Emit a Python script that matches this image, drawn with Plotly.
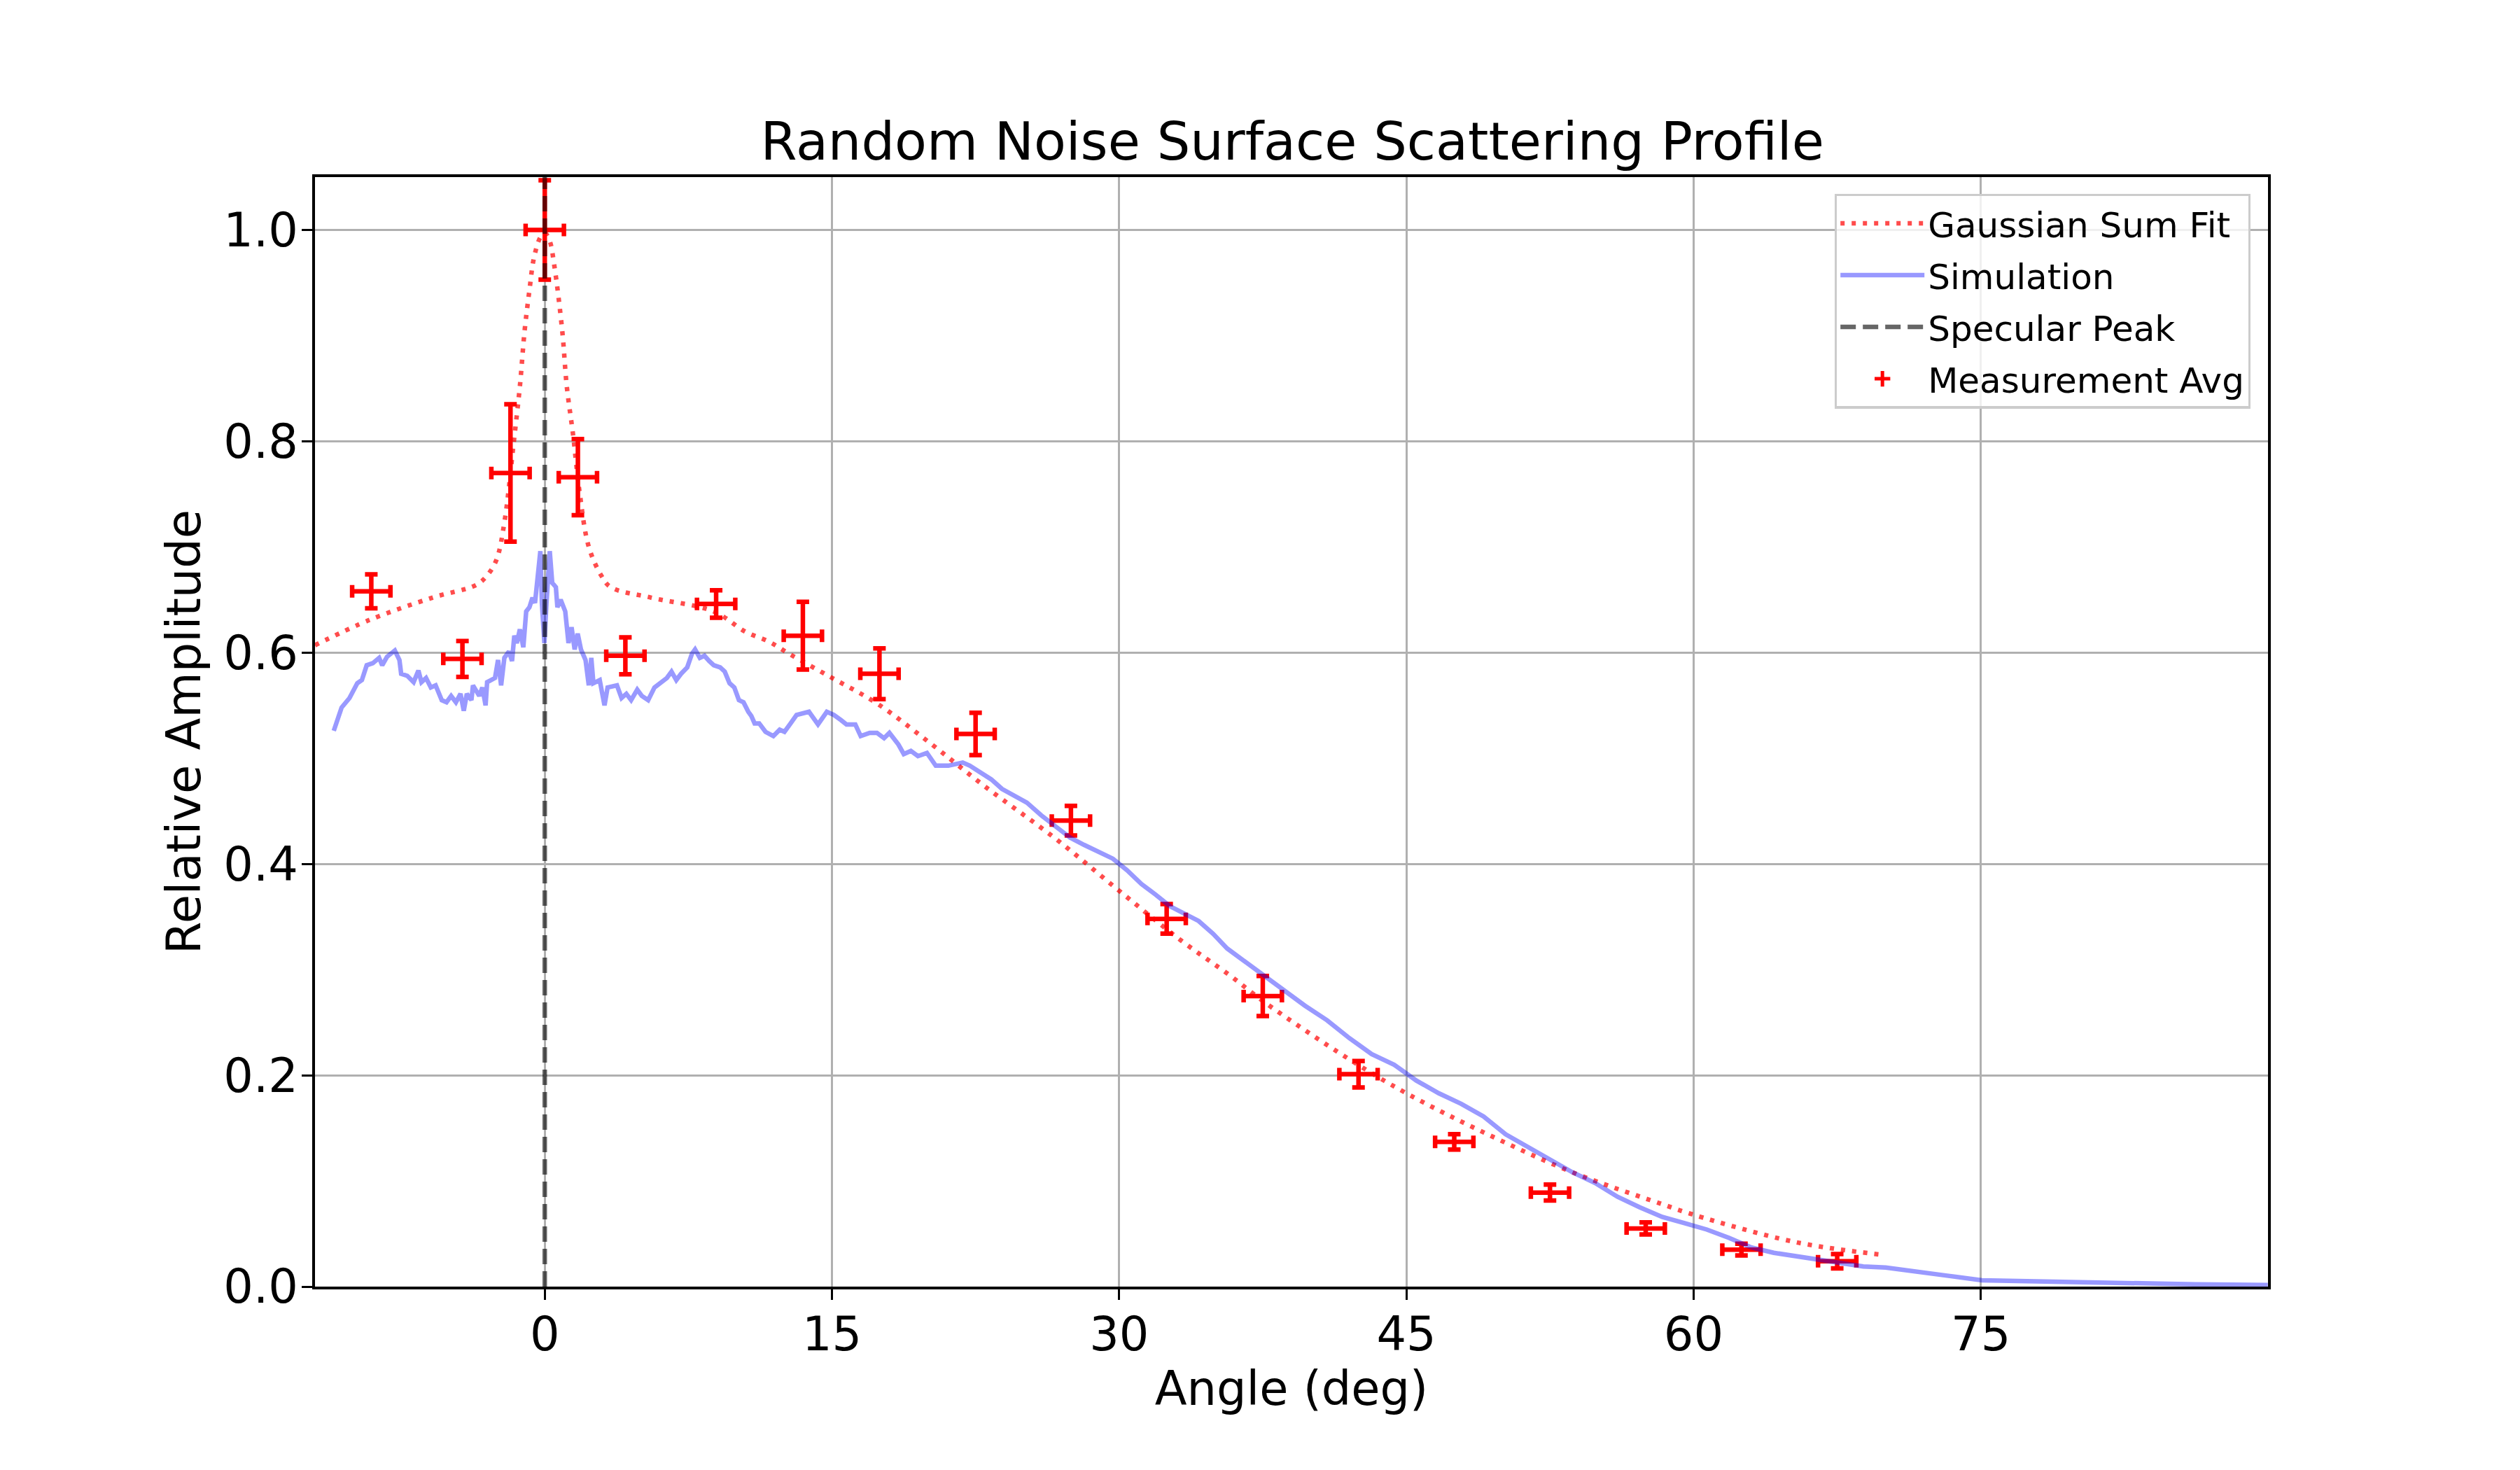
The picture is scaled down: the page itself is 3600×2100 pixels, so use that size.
import plotly.graph_objects as go

# Measurement averages (angle bins, mean amplitude, error bars)
meas_angle = [-9.06, -4.30, -1.79, 0.0, 1.73, 4.21, 8.95, 13.48, 17.48, 22.5,
              27.48, 32.48, 37.5, 42.5, 47.5, 52.5, 57.5, 62.5, 67.5]
meas_amp = [0.658, 0.594, 0.770, 1.000, 0.766, 0.597, 0.646, 0.616, 0.580, 0.523,
            0.441, 0.348, 0.275, 0.201, 0.137, 0.089, 0.055, 0.035, 0.024]
meas_yerr = [0.016, 0.017, 0.065, 0.047, 0.036, 0.0175, 0.013, 0.032, 0.024, 0.020,
             0.014, 0.014, 0.019, 0.0125, 0.0073, 0.0076, 0.0057, 0.0056, 0.0068]
meas_xerr = [1.0] * len(meas_angle)

# Gaussian sum fit
fit_angle = [-12.0, -9.14, -5.87, -3.59, -3.01, -2.52, -2.11, -1.62, -1.30, -1.05,
             -0.80, -0.56, -0.23, 0.0, 0.25, 0.50, 0.91, 1.15, 1.48, 1.81, 2.30,
             2.95, 3.44, 5.56, 8.82, 10.46, 11.75, 12.75, 15.01, 17.34, 20.15,
             22.94, 26.67, 30.04, 33.2, 35.82, 37.6, 42.03, 45.0, 49.03, 53.7,
             58.36, 60.0, 65.35, 69.9]
fit_amp = [0.607, 0.631, 0.652, 0.664, 0.673, 0.688, 0.723, 0.799, 0.852, 0.905,
           0.943, 0.974, 0.993, 0.997, 0.990, 0.966, 0.905, 0.852, 0.806, 0.753, 0.700,
           0.673, 0.662, 0.652, 0.639, 0.620, 0.610, 0.599, 0.576, 0.552, 0.514,
           0.474, 0.424, 0.374, 0.328, 0.294, 0.269, 0.215, 0.183, 0.146, 0.108,
           0.078, 0.068, 0.042, 0.030]

# Simulation profile
sim_angle = [-11.02, -10.85, -10.61, -10.20, -9.79, -9.55, -9.30, -8.98, -8.65, -8.49,
             -8.24, -7.83, -7.59, -7.50, -7.18, -6.85, -6.60, -6.44, -6.20, -5.95,
             -5.70, -5.38, -5.13, -4.89, -4.64, -4.40, -4.23, -4.07, -3.83, -3.75,
             -3.42, -3.26, -3.09, -3.01, -2.60, -2.44, -2.28, -2.11, -1.87, -1.71,
             -1.59, -1.46, -1.30, -1.12, -0.97, -0.80, -0.64, -0.51, -0.40, -0.23,
             -0.15, -0.02, 0.09, 0.26, 0.39, 0.58, 0.66, 0.83, 1.07, 1.24,
             1.40, 1.56, 1.72, 1.89, 2.13, 2.30, 2.43, 2.54, 2.87, 3.12,
             3.28, 3.77, 4.01, 4.26, 4.51, 4.67, 4.83, 5.07, 5.40, 5.73,
             6.06, 6.38, 6.62, 6.87, 7.12, 7.44, 7.69, 7.85, 8.10, 8.34,
             8.59, 8.83, 9.16, 9.40, 9.65, 9.90, 10.14, 10.38, 10.63, 10.79,
             10.96, 11.20, 11.53, 11.94, 12.27, 12.52, 12.84, 13.15, 13.80, 14.27,
             14.73, 15.10, 15.48, 15.76, 16.22, 16.50, 16.97, 17.35, 17.72, 18.00,
             18.47, 18.75, 19.12, 19.49, 19.96, 20.42, 21.08, 21.83, 22.20, 22.76,
             23.32, 23.88, 24.62, 25.18, 25.93, 26.68, 27.43, 28.17, 28.92, 29.67,
             30.41, 31.16, 31.90, 32.65, 33.40, 34.15, 34.90, 35.64, 36.39, 37.13,
             37.88, 38.53, 39.69, 40.86, 42.03, 43.19, 44.36, 45.52, 46.69, 47.86,
             49.03, 50.19, 51.36, 52.52, 53.69, 54.86, 56.03, 57.19, 58.36, 59.53,
             60.69, 61.86, 63.03, 64.19, 65.36, 66.53, 67.69, 68.86, 70.03, 71.19,
             72.36, 73.17, 75.06, 78.06, 80.50, 82.96, 86.23, 89.99]
sim_amp = [0.526, 0.536, 0.548, 0.557, 0.571, 0.574, 0.588, 0.590, 0.595, 0.588,
           0.596, 0.602, 0.593, 0.580, 0.578, 0.572, 0.583, 0.572, 0.576, 0.567,
           0.569, 0.555, 0.553, 0.559, 0.553, 0.561, 0.545, 0.561, 0.555, 0.569,
           0.559, 0.567, 0.550, 0.572, 0.576, 0.593, 0.569, 0.595, 0.601, 0.592,
           0.616, 0.609, 0.622, 0.605, 0.639, 0.643, 0.652, 0.647, 0.666, 0.696,
           0.647, 0.609, 0.647, 0.696, 0.666, 0.662, 0.643, 0.650, 0.639, 0.609,
           0.624, 0.603, 0.618, 0.603, 0.593, 0.569, 0.595, 0.571, 0.574, 0.550,
           0.567, 0.569, 0.557, 0.561, 0.555, 0.561, 0.565, 0.559, 0.555, 0.567,
           0.571, 0.576, 0.582, 0.574, 0.580, 0.586, 0.599, 0.603, 0.595, 0.597,
           0.592, 0.588, 0.586, 0.582, 0.571, 0.567, 0.555, 0.553, 0.544, 0.540,
           0.533, 0.533, 0.525, 0.521, 0.527, 0.525, 0.533, 0.541, 0.544, 0.532,
           0.544, 0.541, 0.536, 0.532, 0.532, 0.521, 0.524, 0.524, 0.519, 0.524,
           0.513, 0.504, 0.507, 0.502, 0.505, 0.493, 0.493, 0.496, 0.493, 0.486,
           0.480, 0.471, 0.464, 0.458, 0.446, 0.436, 0.425, 0.418, 0.411, 0.405,
           0.394, 0.381, 0.371, 0.360, 0.353, 0.346, 0.334, 0.320, 0.310, 0.300,
           0.291, 0.282, 0.266, 0.252, 0.235, 0.220, 0.210, 0.195, 0.183, 0.173,
           0.161, 0.144, 0.132, 0.120, 0.108, 0.098, 0.085, 0.075, 0.066, 0.060,
           0.054, 0.046, 0.037, 0.032, 0.029, 0.0255, 0.023, 0.019, 0.018, 0.0155,
           0.012, 0.0105, 0.006, 0.005, 0.0034, 0.0028, 0.0021, 0.0015]

specular_angle = 0.0

x_ticks = [0, 15, 30, 45, 60, 75]
y_ticks = [0.0, 0.2, 0.4, 0.6, 0.8, 1.0]

FONT = "DejaVu Sans"

fig = go.Figure()

# error bars (drawn first, below the lines)
fig.add_trace(go.Scatter(
    x=meas_angle, y=meas_amp, mode="markers",
    marker=dict(size=0, color="rgba(0,0,0,0)"),
    error_x=dict(type="data", array=meas_xerr, color="red", thickness=6.5, width=9),
    error_y=dict(type="data", array=meas_yerr, color="red", thickness=6.5, width=9),
    showlegend=False, hoverinfo="skip",
))

fig.add_trace(go.Scatter(
    x=fit_angle, y=fit_amp, mode="lines", name="Gaussian Sum Fit", legendgroup="fit",
    line=dict(color="rgba(255,0,0,0.7)", width=6.5, dash="6px,10px", shape="spline"),
))

fig.add_trace(go.Scatter(
    x=sim_angle, y=sim_amp, mode="lines", name="Simulation", legendgroup="sim",
    line=dict(color="rgba(0,0,255,0.4)", width=6.5),
))

# specular peak: vertical line + legend entry
fig.add_vline(x=specular_angle, line=dict(color="rgba(0,0,0,0.6)", width=6.5, dash="22px,10px"))
fig.add_trace(go.Scatter(
    x=[None], y=[None], mode="lines", name="Specular Peak", legendgroup="spec",
    line=dict(color="rgba(0,0,0,0.6)", width=6.5, dash="22px,10px"),
))

fig.add_trace(go.Scatter(
    x=[None], y=[None], mode="markers", name="Measurement Avg", legendgroup="meas",
    marker=dict(symbol="cross-thin-open", size=16, color="red",
                line=dict(color="red", width=5)),
))

axis_common = dict(
    showline=True, mirror=True, linecolor="black", linewidth=3.5,
    ticks="outside", ticklen=15, tickwidth=3.3, tickcolor="black",
    ticklabelstandoff=-8,
    showgrid=True, gridcolor="#b0b0b0", gridwidth=3.3, zeroline=False,
    tickfont=dict(family=FONT, size=67, color="black"),
)

fig.update_xaxes(
    range=[-12, 90], tickvals=x_ticks, ticktext=[str(t) for t in x_ticks],
    title=dict(text="Angle (deg)", font=dict(family=FONT, size=67, color="black"), standoff=3),
    **axis_common,
)
fig.update_yaxes(
    range=[0, 1.05], tickvals=y_ticks, ticktext=[f"{t:.1f}" for t in y_ticks],
    title=dict(text="Relative Amplitude", font=dict(family=FONT, size=67, color="black"), standoff=12),
    **axis_common,
)

# page body has an 8px margin, so shift the figure margins to compensate
fig.update_layout(
    width=3600, height=2100,
    margin=dict(l=442, r=368, t=245, b=270, autoexpand=False),
    paper_bgcolor="white", plot_bgcolor="white",
    title=dict(
        text="Random Noise Surface Scattering Profile",
        font=dict(family=FONT, size=75, color="black"),
        x=0.5106, xanchor="center", y=0.9076, yanchor="middle", yref="container",
    ),
    legend=dict(
        x=0.991, y=0.985, xanchor="right", yanchor="top",
        font=dict(family=FONT, size=50, color="black"),
        bgcolor="rgba(255,255,255,0.8)", bordercolor="#cccccc", borderwidth=3.3,
        itemwidth=120, tracegroupgap=6, traceorder="grouped",
    ),
    font=dict(family=FONT),
)

fig.write_html("out.html")
